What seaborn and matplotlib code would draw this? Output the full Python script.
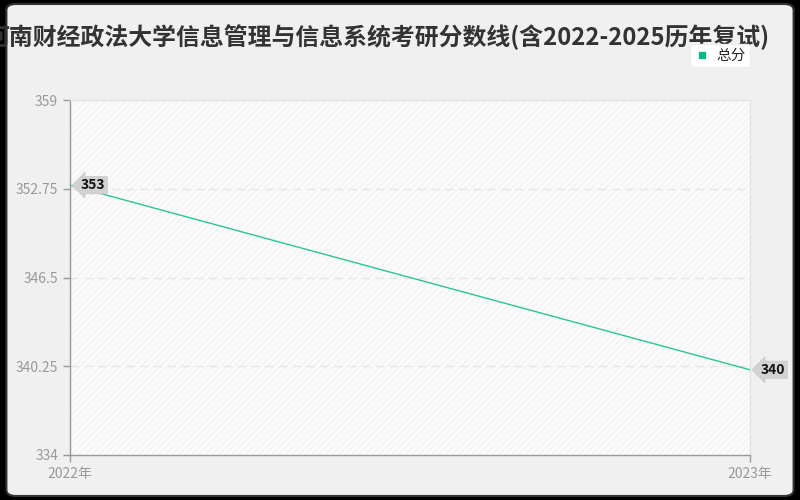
import matplotlib
matplotlib.use("Agg")
import matplotlib.pyplot as plt
import seaborn as sns
import pandas as pd
from matplotlib.patches import FancyBboxPatch

years = ["2022年", "2023年"]
scores = [353, 340]
series_name = "总分"
yticks = [334, 340.25, 346.5, 352.75, 359]
ytick_labels = ["334", "340.25", "346.5", "352.75", "359"]
title = "河南财经政法大学信息管理与信息系统考研分数线(含2022-2025历年复试)"

sns.set_theme(style="white")
plt.rcParams['font.family'] = ['Noto Sans CJK SC', 'DejaVu Sans']

df = pd.DataFrame({"year": [0, 1], "score": scores, "label": years})

fig = plt.figure(figsize=(8, 5), dpi=100)
fig.patch.set_facecolor("black")
panel = FancyBboxPatch((0.008, 0.008), 0.984, 0.984, boxstyle="round,pad=0,rounding_size=0.012",
                       transform=fig.transFigure, facecolor="#f0f0f0", edgecolor="#333333",
                       linewidth=1.5, zorder=-10)
fig.patches.append(panel)

ax = fig.add_axes([70/800, 45/500, 680/800, 355/500])
ax.set_zorder(2)
ax.set_facecolor("#fbfbfb")
ax.add_patch(plt.Rectangle((0, 0), 1, 1, transform=ax.transAxes, facecolor="none",
                           edgecolor="#f2f2f2", hatch="/////", linewidth=0, zorder=0))

sns.lineplot(data=df, x="year", y="score", ax=ax, color="#2cc495", linewidth=1,
             label=series_name, legend=False, zorder=3)

ax.set_xlim(0, 1)
ax.set_ylim(334, 359)
ax.set_yticks(yticks)
ax.set_yticklabels(ytick_labels)
ax.set_xticks([0, 1])
ax.set_xticklabels(years)
ax.set_xlabel("")
ax.set_ylabel("")
for y in yticks[1:-1]:
    ax.axhline(y, color="#e6e6e6", linestyle=(0, (6, 4)), linewidth=1, zorder=1)

for s in ["top", "right"]:
    ax.spines[s].set_color("#e3e3e3")
    ax.spines[s].set_linewidth(1)
for s in ["left", "bottom"]:
    ax.spines[s].set_color("#999999")
    ax.spines[s].set_linewidth(1)
ax.tick_params(axis="both", colors="#999999", labelcolor="#999999", labelsize=10,
               length=5, width=1, direction="out", left=True, bottom=True)

for xv, yv in zip(df["year"], df["score"]):
    ax.annotate(str(yv), xy=(xv, yv), xytext=(8, 0), textcoords="offset points",
                ha="left", va="center", fontsize=10, fontweight="bold", color="#111111",
                bbox=dict(boxstyle="larrow,pad=0.12", facecolor="#d2d2d2", edgecolor="#c8c8c8",
                          linewidth=0.5),
                zorder=5, annotation_clip=False)

fig.text(0.4725, 0.926, title, ha="center", va="center", fontsize=17.2,
         fontweight="bold", color="#333333", zorder=1)

leg = ax.legend(handles=[plt.Line2D([], [], marker="s", linestyle="none", color="#0fb585",
                                    markersize=5)],
                labels=[series_name], loc="lower right", bbox_to_anchor=(1.0, 1.093),
                borderaxespad=0,
                frameon=True, fontsize=10.5, handletextpad=0.5, borderpad=0.3,
                handlelength=1.0, fancybox=True, framealpha=1)
leg.get_frame().set_facecolor("white")
leg.get_frame().set_edgecolor("#eeeeee")

fig.savefig("out.png", dpi=100, facecolor=fig.get_facecolor())
